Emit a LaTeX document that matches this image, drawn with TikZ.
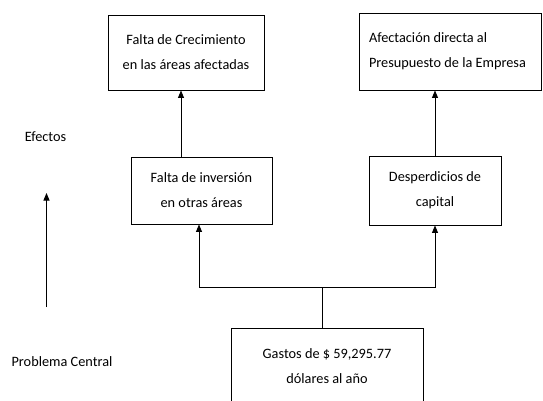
\documentclass[tikz,border=0pt]{standalone}
\usepackage{fontspec}
\setmainfont{Carlito}
\usetikzlibrary{arrows.meta}

\begin{document}
\begin{tikzpicture}[
  x=1pt, y=-1pt,
  %% Boxes of the tree (effects and central problem)
  treebox/.style={draw, line width=0.9pt, align=center,
                  font=\fontsize{14.3}{25}\selectfont, inner sep=4pt},
  %% Free labels on the left
  sidelabel/.style={font=\fontsize{14.3}{17}\selectfont},
  %% Arrow with small filled head
  arr/.style={-{Triangle[width=6pt,length=7.5pt]}, line width=0.9pt},
  line/.style={line width=0.9pt}
]
\clip (0,0) rectangle (543,401);

%% ── Top row: indirect effects ───────────────────────────────────────────
\node[treebox, minimum width=156pt, minimum height=75pt] (crec) at (186,52.5)
  {Falta de Crecimiento\\en las áreas afectadas};
\node[treebox, minimum width=182pt, minimum height=77pt, text width=162pt,
      inner xsep=10pt, align=flush left] (presu) at (450,51.5)
  {Afectación directa al\\Presupuesto de la Empresa};

%% ── Middle row: direct effects ──────────────────────────────────────────
\node[treebox, minimum width=141pt, minimum height=67pt] (inver) at (201.5,190.5)
  {Falta de inversión\\en otras áreas};
\node[treebox, minimum width=132pt, minimum height=69pt] (desp) at (435,190.5)
  {Desperdicios de\\capital};

%% ── Bottom: central problem (runs off the lower edge) ──────────────────
\node[treebox, minimum width=192pt, minimum height=75pt, anchor=north] (gastos)
  at (327,328) {Gastos de \$ 59,295.77\\dólares al año};

%% ── Left column labels ──────────────────────────────────────────────────
\node[sidelabel] (efectos) at (45.5,137) {Efectos};
\node[sidelabel] (central) at (62,362) {Problema Central};
\coordinate (upfoot) at (46.5,307);
\coordinate (uphead) at (46.5,193);
\draw[arr] (upfoot) -- (uphead);

%% ── Arrows between effects ──────────────────────────────────────────────
\draw[arr] ([xshift=-20.5pt]inver.north) -- ([xshift=-20.5pt]inver.north |- crec.south);
\draw[arr] (desp.north) -- (desp.north |- presu.south);

%% ── Fork from the central problem ───────────────────────────────────────
\coordinate (fork) at (322,287);
\draw[line] (gastos.north -| fork) -- (fork);
\draw[arr] (fork) -| ([xshift=-2.5pt]inver.south);
\draw[arr] (fork) -| (desp.south);

\end{tikzpicture}
\end{document}
